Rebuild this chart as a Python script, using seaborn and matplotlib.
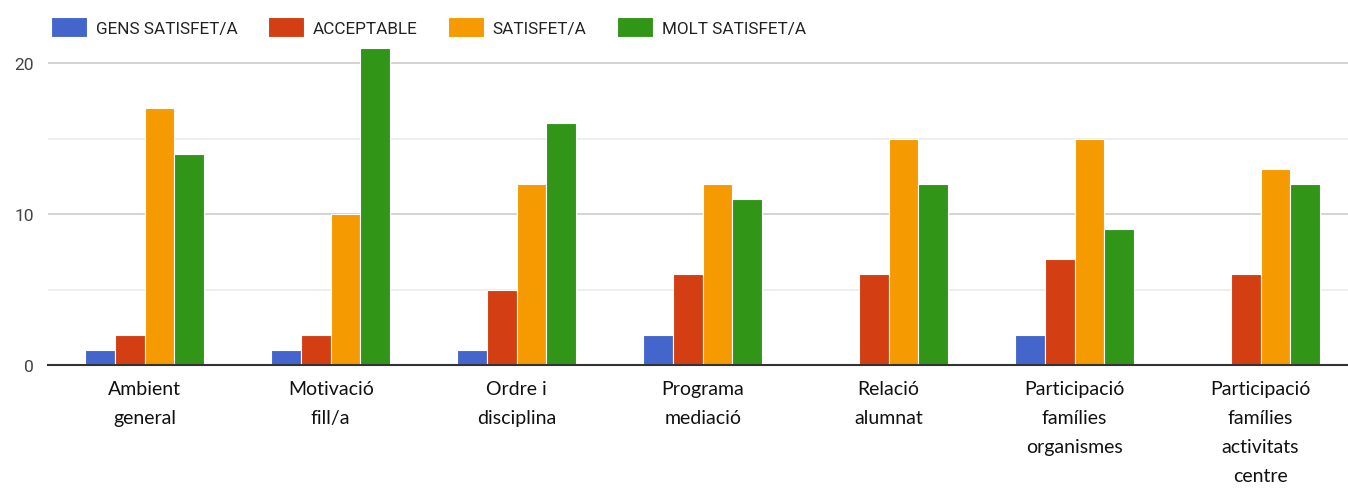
import matplotlib
matplotlib.use("Agg")
import matplotlib.pyplot as plt
import seaborn as sns
import pandas as pd

categories = ["Ambient\ngeneral", "Motivació\nfill/a", "Ordre i\ndisciplina",
              "Programa\nmediació", "Relació\nalumnat",
              "Participació\nfamílies\norganismes",
              "Participació\nfamílies\nactivitats\ncentre"]
series = ["GENS SATISFET/A", "ACCEPTABLE", "SATISFET/A", "MOLT SATISFET/A"]
gens = [1, 1, 1, 2, 0, 2, 0]
acceptable = [2, 2, 5, 6, 6, 7, 6]
satisfet = [17, 10, 12, 12, 15, 15, 13]
molt = [14, 21, 16, 11, 12, 9, 12]
colors = ["#4466cc", "#d33e13", "#f59a00", "#319518"]

rows = []
for s, vals in zip(series, [gens, acceptable, satisfet, molt]):
    for c, v in zip(categories, vals):
        rows.append({"cat": c, "serie": s, "val": v})
df = pd.DataFrame(rows)

sns.set_theme(style="white")

fig = plt.figure(figsize=(13.48, 4.89), dpi=100)
ax = fig.add_axes([48/1348, 1-366/489, 1-48/1348, (366-46)/489])
sns.barplot(data=df, x="cat", y="val", hue="serie", palette=colors,
            hue_order=series, order=categories, width=0.64, ax=ax,
            saturation=1, edgecolor="white", linewidth=0.8, legend=True)
ax.set_ylim(0, 21.2)
ax.set_xlim(-0.52, 6.47)
ax.set_yticks([0, 10, 20])
ax.set_yticks([5, 15], minor=True)
ax.yaxis.grid(True, which="major", color="#cccccc", linewidth=1.2)
ax.yaxis.grid(True, which="minor", color="#ebebeb", linewidth=1.2)
ax.set_axisbelow(True)
for sp in ["top", "right", "left"]:
    ax.spines[sp].set_visible(False)
ax.spines["bottom"].set_color("#333333")
ax.spines["bottom"].set_linewidth(1.5)
ax.set_xlabel("")
ax.set_ylabel("")
ax.tick_params(axis="both", which="both", length=0)
ax.tick_params(axis="x", pad=11)
ax.tick_params(axis="y", pad=10)
for t in ax.get_xticklabels():
    t.set_fontfamily("Lato")
    t.set_fontsize(14)
    t.set_color("#111111")
    t.set_linespacing(1.85)
for t in ax.get_yticklabels():
    t.set_fontfamily("Roboto")
    t.set_fontsize(12.5)
    t.set_color("#444444")

handles, labels = ax.get_legend_handles_labels()
ax.get_legend().remove()
leg = fig.legend(handles, labels, loc="center left", bbox_to_anchor=(36/1348, 1-28/489),
                 ncol=4, frameon=False, handlelength=2.1, handleheight=1.4,
                 handletextpad=0.5, columnspacing=1.8,
                 prop={"family": "Roboto", "size": 12.3})
for t in leg.get_texts():
    t.set_color("#222222")

fig.savefig("out.png", dpi=100)
